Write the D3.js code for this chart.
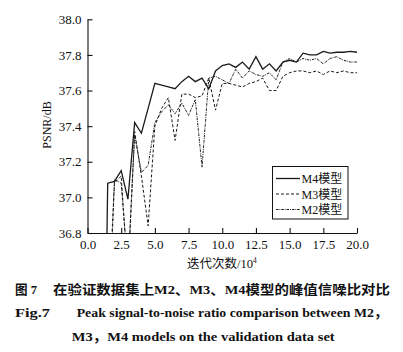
<!DOCTYPE html>
<html>
<head>
<meta charset="utf-8">
<script src="https://cdn.jsdelivr.net/npm/d3@7"></script>
<style>
  body { margin: 0; background: #fff; }
  svg { display: block; background: #fff; }
  .axis path, .axis line { stroke: #111; stroke-width: 1.1; }
</style>
</head>
<body>
<svg id="chart" width="403" height="352"></svg>
<script>
// iterations (x 10^4)
const iterations = [1.0, 1.5, 2.0, 2.5, 3.0, 3.5, 4.0, 4.5, 5.0, 5.5, 6.0, 6.5, 7.0, 7.5,
  8.0, 8.5, 9.0, 9.5, 10.0, 10.5, 11.0, 11.5, 12.0, 12.5, 13.0, 13.5, 14.0, 14.5,
  15.0, 15.5, 16.0, 16.5, 17.0, 17.5, 18.0, 18.5, 19.0, 19.5, 20.0];

// PSNR (dB) per model
const m4Psnr = [34.5, 37.08, 37.09, 37.15, 36.99, 37.42, 37.36, 37.50, 37.64, 37.63, 37.62, 37.61, 37.65, 37.68,
  37.65, 37.67, 37.61, 37.71, 37.74, 37.75, 37.73, 37.76, 37.72, 37.79, 37.72, 37.75, 37.71, 37.76,
  37.77, 37.76, 37.81, 37.80, 37.80, 37.82, 37.81, 37.815, 37.815, 37.82, 37.815];
const m3Psnr = [35.8, 36.3, 37.08, 37.12, 36.55, 37.37, 37.12, 36.84, 37.40, 37.50, 37.56, 37.32, 37.58, 37.58,
  37.56, 37.57, 37.67, 37.49, 37.64, 37.64, 37.63, 37.62, 37.64, 37.65, 37.67, 37.60, 37.60, 37.68,
  37.70, 37.71, 37.71, 37.70, 37.71, 37.69, 37.71, 37.70, 37.71, 37.70, 37.70];
const m2Psnr = [35.5, 36.1, 37.10, 37.08, 36.6, 37.35, 37.14, 37.18, 37.42, 37.48, 37.52, 37.47, 37.53, 37.46,
  37.55, 37.17, 37.67, 37.68, 37.66, 37.64, 37.72, 37.67, 37.71, 37.69, 37.68, 37.70, 37.66, 37.76,
  37.78, 37.76, 37.78, 37.77, 37.78, 37.75, 37.78, 37.79, 37.77, 37.76, 37.76];

const seriesNames = ['M4模型', 'M3模型', 'M2模型'];
const xTicks = [0, 2.5, 5, 7.5, 10, 12.5, 15, 17.5, 20];
const yTicks = [36.8, 37.0, 37.2, 37.4, 37.6, 37.8, 38.0];

const FONT = "'Liberation Serif', 'Noto Sans CJK SC', serif";
const INK = '#111';

const svg = d3.select('svg#chart');
const margin = { top: 19.3, right: 46, bottom: 119, left: 87.5 };
const width = 403, height = 352;
const innerWidth = width - margin.left - margin.right;
const innerHeight = height - margin.top - margin.bottom;

const xScale = d3.scaleLinear().domain([0, 20]).range([margin.left, margin.left + innerWidth]);
const yScale = d3.scaleLinear().domain([36.8, 38.0]).range([margin.top + innerHeight, margin.top]);

svg.append('clipPath')
    .attr('id', 'plot-clip')
  .append('rect')
    .attr('x', margin.left)
    .attr('y', margin.top - 2)
    .attr('width', innerWidth + 2)
    .attr('height', innerHeight + 2);

// axes, ticks pointing inward
const xAxis = d3.axisBottom(xScale)
  .tickValues(xTicks)
  .tickFormat(d3.format('.1f'))
  .tickSizeInner(-5)
  .tickSizeOuter(0)
  .tickPadding(7);
const yAxis = d3.axisLeft(yScale)
  .tickValues(yTicks)
  .tickFormat(d3.format('.1f'))
  .tickSizeInner(-5)
  .tickSizeOuter(0)
  .tickPadding(6);

svg.append('g')
    .attr('class', 'axis')
    .attr('transform', `translate(0,${margin.top + innerHeight})`)
    .call(xAxis)
    .attr('font-family', FONT)
    .attr('font-size', 13)
    .selectAll('text').attr('fill', INK);
svg.append('g')
    .attr('class', 'axis')
    .attr('transform', `translate(${margin.left},0)`)
    .call(yAxis)
    .attr('font-family', FONT)
    .attr('font-size', 13)
    .selectAll('text').attr('fill', INK);

// lines
const series = [
  { name: seriesNames[0], values: m4Psnr, dash: null, w: 1.3 },
  { name: seriesNames[1], values: m3Psnr, dash: '3,2', w: 1 },
  { name: seriesNames[2], values: m2Psnr, dash: '2.5,1,0.8,1', w: 1 }
];

const line = d3.line()
  .x((d, i) => xScale(iterations[i]))
  .y(d => yScale(d));

svg.append('g')
    .attr('clip-path', 'url(#plot-clip)')
  .selectAll('path')
  .data(series)
  .enter().append('path')
    .attr('d', d => line(d.values))
    .attr('fill', 'none')
    .attr('stroke', '#1a1a1a')
    .attr('stroke-width', d => d.w)
    .attr('stroke-dasharray', d => d.dash)
    .attr('stroke-linejoin', 'miter');

// legend
const lx = 272.5, ly = 166.5;
svg.append('rect')
    .attr('x', lx)
    .attr('y', ly)
    .attr('width', 75.5)
    .attr('height', 52.5)
    .attr('fill', '#fff')
    .attr('stroke', INK)
    .attr('stroke-width', 1);
svg.selectAll('.legend-line')
  .data(series)
  .enter().append('line')
    .attr('class', 'legend-line')
    .attr('x1', lx + 3.5)
    .attr('x2', lx + 27.5)
    .attr('y1', (d, i) => ly + 12 + i * 15.5)
    .attr('y2', (d, i) => ly + 12 + i * 15.5)
    .attr('stroke', '#1a1a1a')
    .attr('stroke-width', d => d.w)
    .attr('stroke-dasharray', d => d.dash);
svg.selectAll('.legend-label')
  .data(series)
  .enter().append('text')
    .attr('class', 'legend-label')
    .attr('x', lx + 29)
    .attr('y', (d, i) => ly + 16.5 + i * 15.5)
    .attr('font-family', FONT)
    .attr('font-size', 12)
    .attr('fill', INK)
    .text(d => d.name);

// axis titles
svg.append('text')
    .attr('transform', 'translate(51,125) rotate(-90)')
    .attr('text-anchor', 'middle')
    .attr('font-family', FONT)
    .attr('font-size', 12)
    .attr('fill', INK)
    .text('PSNR/dB');

const xTitle = svg.append('text')
    .attr('x', 187)
    .attr('y', 268)
    .attr('font-family', FONT)
    .attr('font-size', 12.5)
    .attr('fill', INK);
xTitle.append('tspan').text('迭代次数/10');
xTitle.append('tspan')
    .attr('dy', -5)
    .attr('font-size', 7.5)
    .text('4');

// caption
const captionLines = [
  { text: '图 7', x: 15, y: 293.5, len: 22, size: 13 },
  { text: '在验证数据集上M2、M3、M4模型的峰值信噪比对比', x: 53, y: 293.5, len: 337, size: 13 },
  { text: 'Fig.7', x: 15, y: 317.3, len: 35, size: 13.5 },
  { text: 'Peak signal-to-noise ratio comparison between M2，', x: 76.7, y: 317.3, len: 311, size: 13.5 },
  { text: 'M3，M4 models on the validation data set', x: 71.7, y: 341, len: 263, size: 13.5 }
];
svg.selectAll('.caption')
  .data(captionLines)
  .enter().append('text')
    .attr('class', 'caption')
    .attr('x', d => d.x)
    .attr('y', d => d.y)
    .attr('textLength', d => d.len)
    .attr('lengthAdjust', 'spacingAndGlyphs')
    .attr('font-family', FONT)
    .attr('font-size', d => d.size)
    .attr('font-weight', 'bold')
    .attr('fill', INK)
    .text(d => d.text);
</script>
</body>
</html>
